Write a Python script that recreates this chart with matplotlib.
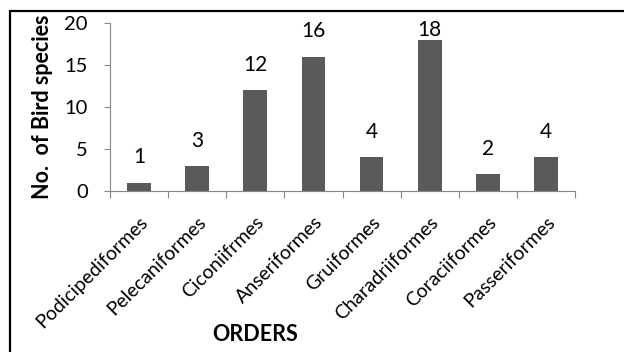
import matplotlib
matplotlib.use("Agg")
import matplotlib.pyplot as plt
from matplotlib.patches import Rectangle

# bird orders and number of species recorded
orders = ["Podicipediformes", "Pelecaniformes", "Ciconiifrmes", "Anseriformes",
          "Gruiformes", "Charadriiformes", "Coraciiformes", "Passeriformes"]
species = [1, 3, 12, 16, 4, 18, 2, 4]
yticks = [0, 5, 10, 15, 20]

plt.rcParams['font.family'] = ['Lato', 'DejaVu Sans']

W, H = 624, 352
fig = plt.figure(figsize=(W / 100, H / 100), dpi=100)
ax = fig.add_axes([110 / W, 1 - 191 / H, 465 / W, 168 / H])

x = range(len(orders))
bars = ax.bar(x, species, width=0.41, color="#5a5a5a")
labels = ax.bar_label(bars, padding=11, fontsize=15)

ax.set_xlim(-0.5, len(orders) - 0.5)
ax.set_ylim(0, 20)
ax.set_yticks(yticks)
ax.tick_params(axis="y", labelsize=14.5, length=4, color="#868686", pad=12)

# ticks sit between categories, labels under each category
ax.set_xticks([i - 0.5 for i in range(len(orders) + 1)])
ax.set_xticklabels([])
ax.tick_params(axis="x", length=5, color="#868686")
ax.set_xticks(list(x), minor=True)
ax.set_xticklabels(orders, minor=True, rotation=45, ha="right",
                   rotation_mode="anchor", fontsize=14)
ax.tick_params(axis="x", which="minor", length=0, pad=16)

for side in ["top", "right"]:
    ax.spines[side].set_visible(False)
for side in ["left", "bottom"]:
    ax.spines[side].set_color("#868686")

ax.set_ylabel("No.  of Bird species", fontsize=15.5, fontweight="bold", labelpad=8)
fig.text(255 / W, 11 / H, "ORDERS", fontsize=15.5, fontweight="bold",
         ha="center", va="baseline")

# keep value labels inside the chart frame (as the tallest one is)
fig.canvas.draw()
top_limit = H - 20
for t in labels:
    bb = t.get_window_extent()
    if bb.y1 > top_limit:
        dx, dy = t.xyann
        t.xyann = (dx, dy - (bb.y1 - top_limit) * 72 / 100)

# outer chart frame (only left and top edges fall inside the image)
fig.patches.append(Rectangle((9.5 / W, -0.1), 1.2, 1 - 11 / H + 0.1,
                             transform=fig.transFigure, fill=False,
                             edgecolor="black", linewidth=1.6))

fig.savefig("out.png", dpi=100)
